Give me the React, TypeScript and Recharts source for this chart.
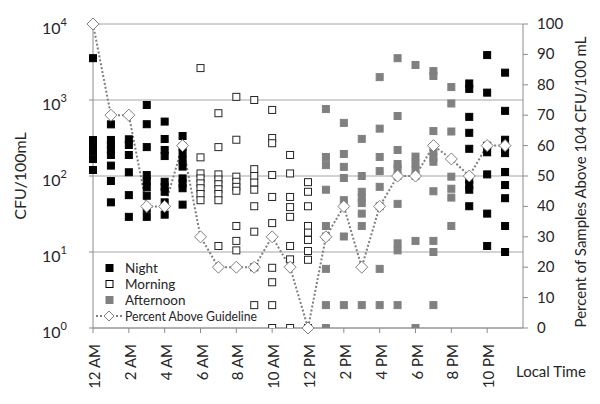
import React from "react";
import { ComposedChart, Scatter, Line, XAxis, YAxis, CartesianGrid } from "recharts";

// hours of day (0 = 12 AM)
const nightHours = [0, 1, 2, 3, 4, 5, 21, 22, 23];
const nightValues = [
  [3550, 297, 250, 213, 167, 120],
  [478, 298, 256, 220, 189, 137, 86, 45],
  [304, 256, 189, 112, 56, 29],
  [860, 480, 240, 103, 86, 71, 55, 37, 29],
  [520, 307, 220, 183, 84, 72, 62, 45, 31],
  [336, 243, 199, 162, 133, 93, 80, 69, 42],
  [1650, 1400, 600, 370, 228, 90, 76, 66, 40],
  [3900, 1250, 250, 205, 105, 32, 12],
  [2290, 720, 300, 240, 200, 113, 76, 51, 22, 10],
];

const morningHours = [6, 7, 8, 9, 10, 11, 12];
const morningValues = [
  [2630, 176, 108, 93, 80, 69, 58, 48],
  [670, 240, 105, 90, 78, 67, 58, 48, 12],
  [1100, 300, 98, 84, 72, 64, 22, 14, 10.5],
  [1000, 123, 100, 82, 66, 40, 18.5, 6.3, 2],
  [740, 316, 270, 103, 53, 24, 6.2, 4, 2, 1],
  [189, 108, 53, 39, 29, 12, 8, 1],
  [83, 62, 40, 22, 18, 14.4, 10.3, 7.9, 1],
];

const afternoonHours = [13, 14, 15, 16, 17, 18, 19, 20];
const afternoonValues = [
  [760, 178, 139, 66, 22, 16, 6, 2, 1],
  [500, 195, 132, 94, 48, 16, 2],
  [308, 100, 62, 52, 44, 32, 22, 2],
  [2000, 420, 178, 116, 72, 40, 6, 2],
  [3550, 616, 220, 144, 125, 100, 43, 13, 10.5, 2],
  [2890, 180, 147, 120, 100, 14, 1],
  [2400, 2070, 390, 210, 176, 154, 63, 14, 10, 2],
  [1480, 900, 385, 98, 68, 52, 22],
];

const percentAbove = [100, 70, 70, 40, 40, 60, 30, 20, 20, 20, 30, 20, 0, 30, 40, 20, 40, 50, 50, 60, 55.6, 50, 60, 60];

const timeTicks = [0, 2, 4, 6, 8, 10, 12, 14, 16, 18, 20, 22];
const timeLabels = ["12 AM", "2 AM", "4 AM", "6 AM", "8 AM", "10 AM", "12 PM", "2 PM", "4 PM", "6 PM", "8 PM", "10 PM"];
const cfuTicks = [1, 10, 100, 1000, 10000];
const percentTicks = [0, 10, 20, 30, 40, 50, 60, 70, 80, 90, 100];

const toPoints = (hours: number[], values: number[][]) =>
  hours.flatMap((h, i) => values[i].map((v) => ({ h, v })));

const nightData = toPoints(nightHours, nightValues);
const morningData = toPoints(morningHours, morningValues);
const afternoonData = toPoints(afternoonHours, afternoonValues);
const percentData = percentAbove.map((p, h) => ({ h, p }));

const FONT = "Lato, 'Open Sans', sans-serif";
const TXT = "#262626";
const AXIS = "#8c8c8c";

const square = (fill: string, stroke: string) => (props: any) => (
  <rect x={props.cx - 3.5} y={props.cy - 3.5} width={7} height={7} fill={fill} stroke={stroke} strokeWidth={1} />
);

const Diamond = (props: any) => {
  const { cx, cy } = props;
  if (cx == null || cy == null) return null;
  return <path d={`M${cx},${cy - 6}L${cx + 6},${cy}L${cx},${cy + 6}L${cx - 6},${cy}Z`} fill="#fff" stroke="#7f7f7f" strokeWidth={1} />;
};

const LogTick = (props: any) => {
  const { y, payload } = props;
  const exp = Math.round(Math.log10(payload.value));
  return (
    <text x={67} y={y + 10} textAnchor="end" fontFamily={FONT} fill={TXT} fontSize={16}>
      <tspan>10</tspan>
      <tspan dy={-8} fontSize={11}>{exp}</tspan>
    </text>
  );
};

const TimeTick = (props: any) => {
  const { x, payload } = props;
  const idx = timeTicks.indexOf(payload.value);
  return (
    <text
      transform={`translate(${x + 1},${344}) rotate(-90)`}
      textAnchor="end"
      dominantBaseline="central"
      fontFamily={FONT}
      fontSize={15}
      fill={TXT}
    >
      {timeLabels[idx]}
    </text>
  );
};

const PercentTick = (props: any) => {
  const { y, payload } = props;
  return (
    <text x={537} y={y} dy={5} textAnchor="start" fontFamily={FONT} fontSize={15} fill={TXT}>
      {payload.value}
    </text>
  );
};

const legendRows = [
  { name: "Night", y: 268, fill: "#000", stroke: "#000" },
  { name: "Morning", y: 284, fill: "#fff", stroke: "#000" },
  { name: "Afternoon", y: 300, fill: "#808080", stroke: "#808080" },
];

const Overlay = () => (
  <svg width={600} height={404} style={{ position: "absolute", left: 0, top: 0, pointerEvents: "none" }}>
    {legendRows.map((r) => (
      <g key={r.name}>
        <rect x={106} y={r.y - 3.5} width={7} height={7} fill={r.fill} stroke={r.stroke} />
        <text x={125} y={r.y + 5} fontFamily={FONT} fontSize={13.5} fill={TXT}>{r.name}</text>
      </g>
    ))}
    <line x1={96} x2={122} y1={316} y2={316} stroke="#7f7f7f" strokeWidth={2} strokeDasharray="2 2" />
    <path d="M109,311L114,316L109,321L104,316Z" fill="#fff" stroke="#7f7f7f" />
    <text x={125} y={321} fontFamily={FONT} fontSize={13.5} fill={TXT} textLength={132} lengthAdjust="spacingAndGlyphs">
      Percent Above Guideline
    </text>
    <text transform="translate(26,176) rotate(-90)" textAnchor="middle" fontFamily={FONT} fontSize={16} fill={TXT}>
      CFU/100mL
    </text>
    <text transform="translate(586,182) rotate(-90)" textAnchor="middle" fontFamily={FONT} fontSize={15} fill={TXT}>
      Percent  of Samples Above 104 CFU/100 mL
    </text>
    <text x={516} y={377} fontFamily={FONT} fontSize={15} fill={TXT}>Local Time</text>
  </svg>
);

export default function App() {
  return (
    <div style={{ position: "absolute", left: 0, top: 0, width: 600, height: 404, background: "#fff" }}>
      <ComposedChart width={600} height={404} margin={{ top: 24, right: 0, bottom: 0, left: 0 }}>
        <CartesianGrid yAxisId="left" vertical={false} stroke="#a6a6a6" />
        <XAxis
          dataKey="h"
          type="number"
          domain={[0, 24]}
          ticks={timeTicks}
          height={76}
          stroke={AXIS}
          tickSize={5}
          tick={<TimeTick />}
          interval={0}
        />
        <YAxis
          yAxisId="left"
          type="number"
          scale="log"
          domain={[1, 10000]}
          ticks={cfuTicks}
          allowDataOverflow
          width={93}
          stroke={AXIS}
          tickSize={4}
          tick={<LogTick />}
          interval={0}
        />
        <YAxis
          yAxisId="right"
          orientation="right"
          type="number"
          domain={[0, 100]}
          ticks={percentTicks}
          width={77}
          stroke={AXIS}
          tickSize={5}
          tick={<PercentTick />}
          interval={0}
        />
        <Scatter yAxisId="left" data={nightData} dataKey="v" shape={square("#000", "#000")} isAnimationActive={false} />
        <Scatter yAxisId="left" data={morningData} dataKey="v" shape={square("#fff", "#262626")} isAnimationActive={false} />
        <Scatter yAxisId="left" data={afternoonData} dataKey="v" shape={square("#808080", "#808080")} isAnimationActive={false} />
        <Line
          yAxisId="right"
          data={percentData}
          dataKey="p"
          type="linear"
          stroke="#7f7f7f"
          strokeWidth={2}
          strokeDasharray="2 2"
          dot={<Diamond />}
          activeDot={false}
          isAnimationActive={false}
        />
      </ComposedChart>
      <Overlay />
    </div>
  );
}
